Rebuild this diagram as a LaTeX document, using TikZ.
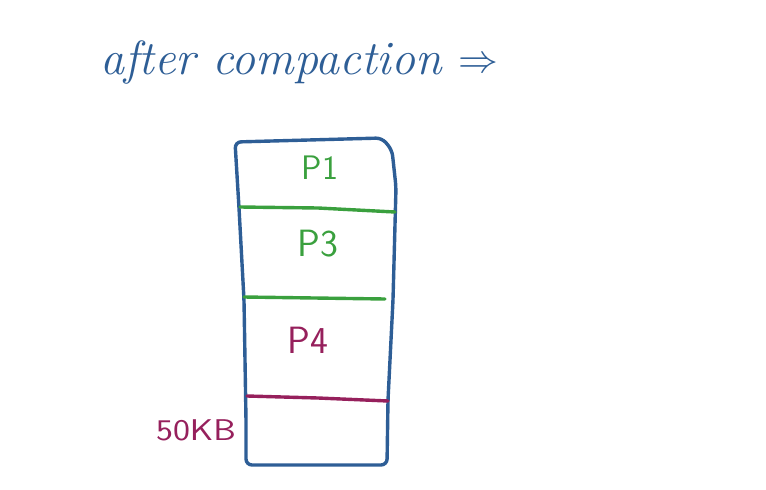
\documentclass[tikz,border=0pt]{standalone}
\usepackage{tikz}
\usetikzlibrary{positioning}
\definecolor{inkblue}{RGB}{46,94,150}
\definecolor{inkgreen}{RGB}{58,160,62}
\definecolor{inkplum}{RGB}{150,32,92}

\begin{document}
\begin{tikzpicture}[x=1pt,y=-1pt,
    pen/.style={line width=3.4pt,line cap=round,line join=round},
    slot/.style={font=\sffamily\fontsize{38}{40}\selectfont,inner sep=0pt}]
    \useasboundingbox (0,0) rectangle (766,490);
    \node[inkblue,inner sep=0pt,anchor=base west,
          font=\fontsize{48}{54}\selectfont\itshape] (title) at (100,74)
          {after compaction \raisebox{2pt}{\scalebox{1.6}{$\Rightarrow$}}};

    % corners of the memory block
    \coordinate (tl) at (235,142);
    \coordinate (tr) at (382,138);
    \coordinate (br) at (387,465);
    \coordinate (bl) at (246,465);
    \draw[pen,inkblue,rounded corners=6pt]
        (tl) -- (tr) -- (392,150) -- (396,187) -- (393,300)
        -- (388,400) -- (br) -- (bl) -- (246,420) -- (244,300)
        -- (239,208) -- cycle;

    % partitions
    \coordinate (a1) at (240,207);
    \coordinate (a2) at (395,212);
    \coordinate (b1) at (244,297);
    \coordinate (b2) at (385,299);
    \coordinate (c1) at (247,396);
    \coordinate (c2) at (388,401);
    \draw[pen,inkgreen] (a1) -- (318,208) -- (a2);
    \draw[pen,inkgreen] (b1) -- (b2);
    \draw[pen,inkplum] (c1) -- (318,398) -- (c2);

    \node[slot,inkgreen,font=\sffamily\fontsize{34}{36}\selectfont] (p1) at (320,168) {P1};
    \node[slot,inkgreen] (p3) at (318,244) {P3};
    \node[slot,inkplum] (p4) at (308,340) {P4};
    \node[slot,inkplum,xscale=1.2,font=\sffamily\fontsize{30}{32}\selectfont] (free) at (196,430) {50KB};
\end{tikzpicture}
\end{document}
